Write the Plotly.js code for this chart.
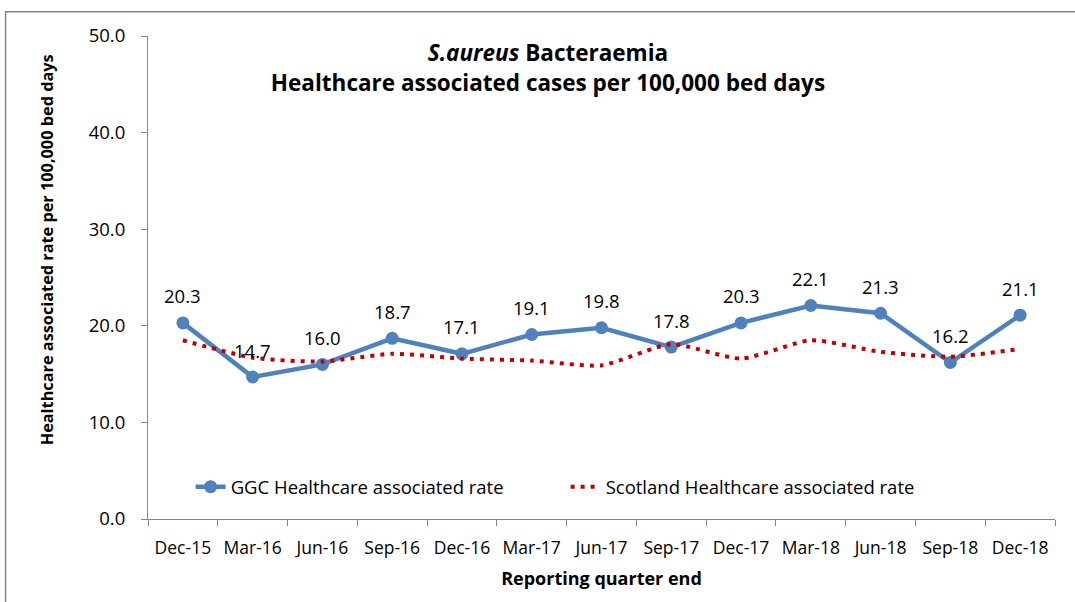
<!DOCTYPE html>
<html><head><meta charset="utf-8">
<script src="https://cdn.plot.ly/plotly-3.0.1.min.js"></script>
<style>body{margin:0;background:#fff}#c{width:1075px;height:602px}</style>
</head><body><div id="c"></div>
<script>
const quarters = ["Dec-15","Mar-16","Jun-16","Sep-16","Dec-16","Mar-17","Jun-17","Sep-17","Dec-17","Mar-18","Jun-18","Sep-18","Dec-18"];
const ggcRate = [20.3,14.7,16.0,18.7,17.1,19.1,19.8,17.8,20.3,22.1,21.3,16.2,21.1];
const scotlandRate = [18.5,16.7,16.3,17.1,16.6,16.4,15.9,18.1,16.6,18.5,17.3,16.8,17.6];
const yTicks = [0,10,20,30,40,50];

const FONT = "'Open Sans', sans-serif";

const traces = [
  {x: quarters, y: ggcRate, type: 'scatter', mode: 'lines+markers', name: 'GGC Healthcare associated rate',
   line: {color: '#4F81BD', width: 4.5}, marker: {color: '#4F81BD', size: 13}},
  {x: quarters, y: scotlandRate, type: 'scatter', mode: 'lines', name: 'Scotland Healthcare associated rate',
   line: {color: '#C00000', width: 4, dash: '4px,6px', shape: 'spline', smoothing: 0.6}}
];

const annotations = quarters.map((q, i) => ({
  x: q, y: ggcRate[i], xref: 'x', yref: 'y', text: ggcRate[i].toFixed(1), showarrow: false,
  yshift: 27, font: {family: FONT, size: 18.5, color: '#000'}
}));
annotations.push({
  text: '<b>Healthcare associated rate per 100,000 bed days</b>', xref: 'paper', yref: 'paper',
  x: -0.111, y: 0.557, xanchor: 'center', yanchor: 'middle', textangle: -90, showarrow: false,
  font: {family: FONT, size: 16.3, color: '#000'}
});

const layout = {
  width: 1075, height: 602,
  margin: {l: 148, r: 20, t: 36, b: 83},
  paper_bgcolor: '#fff', plot_bgcolor: '#fff',
  font: {family: FONT, size: 18, color: '#000'},
  title: {text: '<b><i>S.aureus</i> Bacteraemia</b><br><b>Healthcare associated cases per 100,000 bed days</b>',
          x: 0.441, xref: 'paper', xanchor: 'center', y: 0.898, yref: 'container', yanchor: 'middle',
          font: {family: FONT, size: 22.5, color: '#000'}},
  xaxis: {type: 'category', range: [-0.5, 12.5], tickson: 'boundaries', ticks: 'outside', ticklen: 6,
          tickcolor: '#868686', showline: true, linecolor: '#868686', linewidth: 1, showgrid: false,
          zeroline: false, tickfont: {family: FONT, size: 17.5}, tickangle: 0, ticklabelstandoff: 13,
          title: {text: '<b>Reporting quarter end</b>', font: {family: FONT, size: 18}, standoff: 14}},
  yaxis: {range: [0, 50], tickvals: yTicks, ticktext: yTicks.map(v => v.toFixed(1)), ticks: 'outside', ticklen: 6,
          tickcolor: '#868686', showline: true, linecolor: '#868686', linewidth: 1, showgrid: false,
          zeroline: false, tickfont: {family: FONT, size: 18.5}, ticklabelstandoff: 12},
  legend: {orientation: 'h', x: 0.047, xanchor: 'left', y: 0.066, yanchor: 'middle', bgcolor: 'rgba(0,0,0,0)',
           font: {family: FONT, size: 18.5}, entrywidth: 330, entrywidthmode: 'pixels', tracegroupgap: 0},
  showlegend: true,
  annotations: annotations,
  shapes: [{type: 'rect', xref: 'paper', yref: 'paper', x0: -0.157, x1: 1.05, y0: -0.2, y1: 1.05,
            line: {color: '#868686', width: 1.5}, fillcolor: 'rgba(0,0,0,0)', layer: 'below'}]
};

Plotly.newPlot('c', traces, layout, {displayModeBar: false, staticPlot: true});
</script></body></html>
